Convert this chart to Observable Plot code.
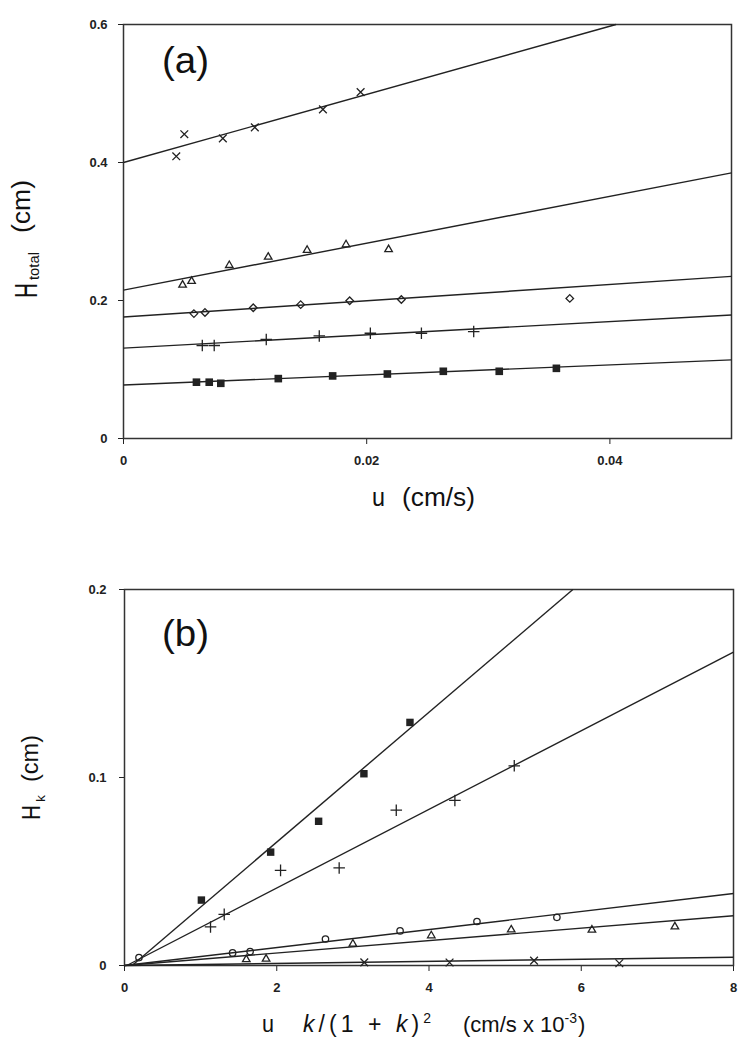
<!DOCTYPE html>
<html><head><meta charset="utf-8">
<script src="https://cdn.jsdelivr.net/npm/d3@7"></script>
<script src="https://cdn.jsdelivr.net/npm/@observablehq/plot@0.6"></script>
<style>
body{margin:0;background:#fff;}
#wrap{position:relative;width:753px;height:1050px;overflow:hidden;background:#fff;}
#wrap svg{position:absolute;left:0;overflow:visible;}
</style></head><body><div id="wrap"></div>
<script>
// ---------- Panel (a): H_total vs u ----------
const aCrossU = [0.00434, 0.0050, 0.00817, 0.0108, 0.0164, 0.0195];
const aCrossH = [0.409, 0.441, 0.435, 0.451, 0.477, 0.502];
const aTriU = [0.00486, 0.0056, 0.0087, 0.0119, 0.0151, 0.0183, 0.0218];
const aTriH = [0.2226, 0.228, 0.251, 0.263, 0.273, 0.281, 0.274];
const aDiaU = [0.00579, 0.0067, 0.01067, 0.01457, 0.0186, 0.02285, 0.0367];
const aDiaH = [0.181, 0.1827, 0.1895, 0.194, 0.1996, 0.2015, 0.203];
const aPlusU = [0.00648, 0.00746, 0.01174, 0.0161, 0.0203, 0.0245, 0.0288];
const aPlusH = [0.1348, 0.1348, 0.1435, 0.1487, 0.1525, 0.1525, 0.155];
const aSqU = [0.0060, 0.00705, 0.0080, 0.01273, 0.0172, 0.0217, 0.0263, 0.0309, 0.0356];
const aSqH = [0.0816, 0.0816, 0.0800, 0.0868, 0.0907, 0.0935, 0.0974, 0.0974, 0.1017];
// fitted lines (start / end points)
const aLineU0 = [0, 0, 0, 0, 0];
const aLineH0 = [0.400, 0.215, 0.176, 0.131, 0.0775];
const aLineU1 = [0.0405, 0.05, 0.05, 0.05, 0.05];
const aLineH1 = [0.600, 0.385, 0.235, 0.179, 0.114];
const aXTicks = [0, 0.02, 0.04];
const aXTickLabels = ["0", "0.02", "0.04"];
const aYTicks = [0, 0.2, 0.4, 0.6];
const aYTickLabels = ["0", "0.2", "0.4", "0.6"];

// ---------- Panel (b): H_k vs u k/(1+k)^2 ----------
const bSqX = [1.01, 1.92, 2.55, 3.145, 3.75];
const bSqH = [0.0348, 0.0603, 0.0767, 0.102, 0.1293];
const bPlusX = [1.13, 1.31, 2.05, 2.82, 3.57, 4.34, 5.12];
const bPlusH = [0.0205, 0.0272, 0.0506, 0.0519, 0.0826, 0.0878, 0.1062];
const bCircX = [0.19, 1.42, 1.65, 2.64, 3.62, 4.63, 5.68];
const bCircH = [0.0042, 0.0067, 0.0074, 0.0141, 0.0184, 0.0234, 0.0256];
const bTriX = [1.6, 1.86, 3.0, 4.03, 5.08, 6.14, 7.23];
const bTriH = [0.0032, 0.0035, 0.0115, 0.0159, 0.019, 0.0189, 0.0206];
const bCrossX = [3.15, 4.27, 5.38, 6.5];
const bCrossH = [0.0017, 0.0016, 0.0026, 0.0012];
const bLineX0 = [0.1, 0.03, 0, 0, 0];
const bLineH0 = [0, 0, 0, 0, 0];
const bLineX1 = [5.89, 8, 8, 8, 8];
const bLineH1 = [0.2, 0.1667, 0.0383, 0.0265, 0.0044];
const bXTicks = [0, 2, 4, 6, 8];
const bXTickLabels = ["0", "2", "4", "6", "8"];
const bYTicks = [0, 0.1, 0.2];
const bYTickLabels = ["0", "0.1", "0.2"];

const INK = "#222";
const zip = (xs, ys) => xs.map((x, i) => ({x, y: ys[i]}));
const lines = (x0, y0, x1, y1) => x0.map((d, i) => ({x1: d, y1: y0[i], x2: x1[i], y2: y1[i]}));

function series(xs, ys, symbol, r, filled) {
  return Plot.dot(zip(xs, ys), {
    x: "x", y: "y", symbol, r,
    fill: filled ? INK : "none",
    stroke: filled ? "none" : INK,
    strokeWidth: 1.3
  });
}

const baseStyle = {fontFamily: "'Liberation Sans', Arial, sans-serif", fontSize: "13px", fontWeight: "bold", color: INK, background: "transparent"};

const pa = Plot.plot({
  width: 753, height: 525,
  marginTop: 24, marginBottom: 87, marginLeft: 123, marginRight: 22,
  style: baseStyle,
  x: {domain: [0, 0.05]},
  y: {domain: [0, 0.6]},
  marks: [
    Plot.axisX({ticks: aXTicks, tickFormat: d => aXTickLabels[aXTicks.indexOf(d)], tickSize: 6, tickPadding: 11, label: null}),
    Plot.axisY({ticks: aYTicks, tickFormat: d => aYTickLabels[aYTicks.indexOf(d)], tickSize: 5, tickPadding: 11, label: null}),
    Plot.frame({stroke: "#333", strokeWidth: 1.5}),
    Plot.link(lines(aLineU0, aLineH0, aLineU1, aLineH1), {x1: "x1", y1: "y1", x2: "x2", y2: "y2", stroke: INK, strokeWidth: 1.4}),
    series(aCrossU, aCrossH, "times", 3.6, false),
    series(aTriU, aTriH, "triangle2", 3.6, false),
    series(aDiaU, aDiaH, "diamond2", 3.4, false),
    series(aPlusU, aPlusH, "plus", 3.8, false),
    series(aSqU, aSqH, "square", 4.3, true)
  ]
});
pa.style.top = "0px";

const pb = Plot.plot({
  width: 753, height: 510,
  marginTop: 49, marginBottom: 85, marginLeft: 124, marginRight: 20,
  style: baseStyle,
  x: {domain: [0, 8]},
  y: {domain: [0, 0.2]},
  marks: [
    Plot.axisX({ticks: bXTicks, tickFormat: d => bXTickLabels[bXTicks.indexOf(d)], tickSize: 6, tickPadding: 11, label: null}),
    Plot.axisY({ticks: bYTicks, tickFormat: d => bYTickLabels[bYTicks.indexOf(d)], tickSize: 5, tickPadding: 13, label: null}),
    Plot.frame({stroke: "#333", strokeWidth: 1.5}),
    Plot.link(lines(bLineX0, bLineH0, bLineX1, bLineH1), {x1: "x1", y1: "y1", x2: "x2", y2: "y2", stroke: INK, strokeWidth: 1.4}),
    series(bSqX, bSqH, "square", 4.2, true),
    series(bPlusX, bPlusH, "plus", 3.8, false),
    series(bCircX, bCircH, "circle", 3.2, false),
    series(bTriX, bTriH, "triangle2", 3.6, false),
    series(bCrossX, bCrossH, "times", 3.6, false)
  ]
});
pb.style.top = "540px";

const wrap = document.getElementById("wrap");
wrap.appendChild(pa);
wrap.appendChild(pb);

// ---------- text annotations ----------
function txt(svg, x, y, size, opts = {}) {
  const t = d3.select(svg).append("text")
    .attr("x", x).attr("y", y)
    .attr("text-anchor", "start")
    .attr("font-size", size)
    .attr("font-weight", "normal")
    .attr("font-family", "'Liberation Sans', Arial, sans-serif")
    .attr("fill", "#111");
  if (opts.len) t.attr("textLength", opts.len).attr("lengthAdjust", opts.adjust || "spacingAndGlyphs");
  if (opts.rotate) t.attr("transform", `rotate(-90 ${x} ${y})`);
  return t;
}

// panel labels
txt(pa, 162, 73, 36, {len: 47}).text("(a)");
txt(pb, 162, 646 - 540, 37, {len: 47}).text("(b)");

// x titles
txt(pa, 372, 506, 26, {len: 13}).text("u");
txt(pa, 402, 506, 26, {len: 73}).text("(cm/s)");

const by = 1032 - 540;
txt(pb, 262, by, 24, {len: 12}).text("u");
{
  const t = txt(pb, 303, by, 23, {len: 128, adjust: "spacing"});
  t.append("tspan").attr("font-style", "italic").text("k");
  t.append("tspan").text("/(1 + ");
  t.append("tspan").attr("font-style", "italic").text("k");
  t.append("tspan").text(")");
  t.append("tspan").attr("font-size", 14).attr("dy", -9).text("2");
}
{
  const t = txt(pb, 463, by, 22);
  t.append("tspan").text("(cm/s x 10");
  t.append("tspan").attr("font-size", 14).attr("dy", -9).text("-3");
  t.append("tspan").attr("dy", 9).attr("dx", 1).text(")");
}

// y titles (rotated)
txt(pa, 37, 298, 32, {len: 15, rotate: true}).text("H");
txt(pa, 38.5, 280, 14, {len: 28, rotate: true}).text("total");
txt(pa, 30, 233, 25, {len: 53, rotate: true}).text("(cm)");

txt(pb, 40, 820 - 540, 25, {len: 15, rotate: true}).text("H");
txt(pb, 45, 802 - 540, 13, {len: 7, rotate: true}).text("k");
txt(pb, 38, 782 - 540, 24, {len: 47, rotate: true}).text("(cm)");
</script>
</body></html>
